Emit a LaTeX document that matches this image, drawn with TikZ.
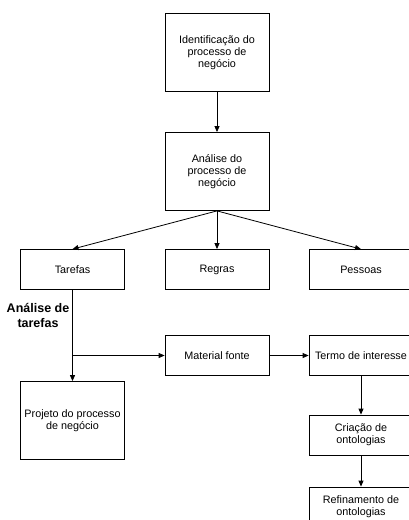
\documentclass[tikz,border=0pt]{standalone}
\usepackage{fontspec}
\setmainfont{Liberation Sans}
\usetikzlibrary{arrows.meta, positioning}
\tikzset{
  proc/.style={
    rectangle, draw=black, fill=white, line width=0.8pt,
    minimum width=104pt, minimum height=40pt,
    align=center, font=\fontsize{10.8}{12}\selectfont, inner sep=2pt,
  },
  proctall/.style={proc, minimum height=78pt},
  arrow/.style={
    -{Triangle[length=6pt,width=5pt]}, line width=0.8pt, draw=black,
  },
  flow/.style={line width=0.8pt, draw=black},
  tlabel/.style={
    font=\fontsize{12.5}{15}\selectfont\bfseries, align=center,
  }
}
\begin{document}
\begin{tikzpicture}[x=1pt, y=-1pt]

  \useasboundingbox (0,0) rectangle (409,520);

  \node[proctall] (ident)   at (217, 52.5)  {Identificação do\\processo de\\negócio};
  \node[proctall] (analise) at (217, 171.5) {Análise do\\processo de\\negócio};
  \node[proc]     (tar)     at (72.5, 269.5){Tarefas};
  \node[proc]     (reg)     at (217, 269.5) {Regras};
  \node[proc]     (pes)     at (361, 269.5) {Pessoas};
  \node[proc]     (mat)     at (217, 355.5) {Material fonte};
  \node[proc]     (termo)   at (361, 355.5) {Termo de interesse};
  \node[proc]     (cria)    at (361, 435)   {Criação de\\ontologias};
  \node[proc]     (refin)   at (361, 507)   {Refinamento de\\ontologias};
  \node[proctall] (proj)    at (72.5, 420.5){Projeto do processo\\de negócio};

  \node[tlabel]   (atar)    at (38, 315)    {Análise de\\tarefas};

  \coordinate (split) at (72.5, 355.5);

  \draw[arrow] (ident) -- (analise);
  \draw[arrow] (analise.south) -- (tar.north);
  \draw[arrow] (analise.south) -- (reg.north);
  \draw[arrow] (analise.south) -- (pes.north);
  \draw[arrow] (tar) -- (proj);
  \draw[arrow] (split) -- (mat);
  \draw[arrow] (mat) -- (termo);
  \draw[arrow] (termo) -- (cria);
  \draw[arrow] (cria) -- (refin);

\end{tikzpicture}
\end{document}
